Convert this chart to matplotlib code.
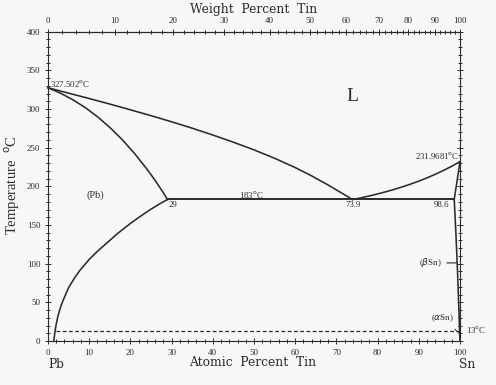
import matplotlib
matplotlib.use("Agg")
import matplotlib.pyplot as plt
import numpy as np
from matplotlib.ticker import MultipleLocator

# Pb-Sn phase diagram, x in atomic percent Sn, T in deg C
pb_liq_x = [0, 5, 10, 15, 20, 25, 30, 35, 40, 45, 50, 55, 60, 64, 68, 71, 73.9]
pb_liq_t = [327.5, 320.5, 313.6, 306.4, 299.0, 291.4, 283.5, 275.2, 266.4, 257.1,
            247.2, 236.3, 224.3, 213.5, 201.7, 192.2, 183]

pb_sol_x = [0, 3, 6, 9, 12, 15, 18, 21, 24, 26, 28, 29]
pb_sol_t = [327.5, 320.6, 312.1, 302.0, 290.1, 276.2, 260.5, 242.5, 222.4, 207.7,
            191.7, 183]

pb_solv_x = [29, 27, 25, 22.3, 20, 17, 14.2, 12, 10, 7.8, 6.5, 5, 3.7, 3, 2.4, 2,
             1.7, 1.4]
pb_solv_t = [183, 177, 170.5, 160.8, 152, 139.5, 126.4, 116, 105.5, 91.8, 82, 69,
             53, 43, 32, 22, 12, 0]

sn_liq_x = [73.9, 76, 78, 80, 82, 84, 86, 88, 90, 92, 94, 96, 98, 100]
sn_liq_t = [183, 185.2, 187.6, 190.2, 193, 196, 199.3, 202.9, 206.8, 211, 215.6,
            220.6, 226, 231.97]

sn_sol_x = [98.6, 100]
sn_sol_t = [183, 231.97]

sn_solv_x = [98.6, 99.0, 99.4, 99.7, 99.9, 100]
sn_solv_t = [183, 140, 90, 45, 13, 0]

eut_x = [29, 98.6]
eut_t = [183, 183]

trans_x = [1.9, 99.8]
trans_t = [13, 13]

M_PB, M_SN = 207.2, 118.71


def at2wt(a):
    a = np.asarray(a, dtype=float)
    with np.errstate(divide="ignore", invalid="ignore"):
        return 100 * a * M_SN / (a * M_SN + (100 - a) * M_PB)


def wt2at(w):
    w = np.asarray(w, dtype=float)
    with np.errstate(divide="ignore", invalid="ignore"):
        return 100 * (w / M_SN) / (w / M_SN + (100 - w) / M_PB)


plt.rcParams["font.family"] = ["Liberation Serif", "DejaVu Serif"]
bg = "#f7f7f7"
ink = "#2b2b2b"

fig = plt.figure(figsize=(4.96, 3.85), dpi=100, facecolor=bg)
ax = fig.add_axes([48 / 496, 44 / 385, 412 / 496, 309.3 / 385], facecolor=bg)

lw = 1.15
for xs, ts in [(pb_liq_x, pb_liq_t), (pb_sol_x, pb_sol_t), (pb_solv_x, pb_solv_t),
               (sn_liq_x, sn_liq_t), (sn_sol_x, sn_sol_t), (sn_solv_x, sn_solv_t)]:
    ax.plot(xs, ts, color=ink, lw=lw, clip_on=False, solid_joinstyle="round")
ax.plot(eut_x, eut_t, color=ink, lw=1.4)
ax.plot(trans_x, trans_t, color=ink, lw=0.9, ls=(0, (3, 2)))

ax.set_xlim(0, 100)
ax.set_ylim(0, 400)
ax.xaxis.set_major_locator(MultipleLocator(10))
ax.xaxis.set_minor_locator(MultipleLocator(2))
ax.yaxis.set_major_locator(MultipleLocator(50))
ax.yaxis.set_minor_locator(MultipleLocator(10))
ax.tick_params(which="both", direction="inout", colors=ink, labelsize=6.5,
               right=True, width=0.7)
ax.tick_params(which="major", length=5, pad=3)
ax.tick_params(which="minor", length=2.5)
for s in ax.spines.values():
    s.set_color(ink)
    s.set_linewidth(0.8)

top = ax.secondary_xaxis("top", functions=(at2wt, wt2at))
top.set_xticks(np.arange(0, 101, 10))
top.xaxis.set_minor_locator(MultipleLocator(2))
top.tick_params(which="both", direction="inout", colors=ink, labelsize=6.5, width=0.7)
top.tick_params(which="major", length=5, pad=2)
top.tick_params(which="minor", length=2.5)
top.spines["top"].set_color(ink)

# axis titles
tfont = ["DejaVu Serif"]
tfs = 8.8
fig.text(254 / 496, 1 - 10 / 385, "Weight  Percent  Tin", ha="center", va="center",
         fontsize=tfs, color=ink, family=tfont)
fig.text(253 / 496, 1 - 363 / 385, "Atomic  Percent  Tin", ha="center", va="center",
         fontsize=tfs, color=ink, family=tfont)
fig.text(56 / 496, 1 - 364 / 385, "Pb", ha="center", va="center", fontsize=tfs,
         color=ink, family=tfont)
fig.text(467 / 496, 1 - 365 / 385, "Sn", ha="center", va="center", fontsize=tfs,
         color=ink, family=tfont)
fig.text(12 / 496, 1 - 185 / 385, "Temperature  $^{\\rm o}$C", ha="center", va="center",
         rotation=90, fontsize=10.5, color=ink)

# annotations inside the diagram
fs = 6.3
ax.text(0.5, 333, "327.502$^{\\rm o}$C", fontsize=fs, color=ink, ha="left", va="center")
ax.text(74, 316, "L", fontsize=14, color=ink, ha="center", va="center")
ax.text(11.4, 189, "(Pb)", fontsize=7.5, color=ink, ha="center", va="center")
ax.text(29.2, 176, "29", fontsize=fs, color=ink, ha="left", va="center")
ax.text(49.4, 189, "183$^{\\rm o}$C", fontsize=fs, color=ink, ha="center", va="center")
ax.text(74, 176, "73.9", fontsize=fs, color=ink, ha="center", va="center")
ax.text(95.5, 176, "98.6", fontsize=fs, color=ink, ha="center", va="center")
ax.text(99.9, 240, "231.9681$^{\\rm o}$C", fontsize=fs, color=ink, ha="right", va="center")
ax.annotate("($\\beta$Sn)", xy=(99.2, 101), xytext=(92.7, 101), fontsize=6.5, color=ink,
            ha="center", va="center",
            arrowprops=dict(arrowstyle="-", color=ink, lw=0.8, shrinkA=2, shrinkB=0))
ax.annotate("($\\alpha$Sn)", xy=(99.6, 11), xytext=(95.8, 30), fontsize=6.5, color=ink,
            ha="center", va="center",
            arrowprops=dict(arrowstyle="-", color=ink, lw=0.7, shrinkA=3, shrinkB=0))
ax.text(101.5, 15.5, "13$^{\\rm o}$C", fontsize=fs, color=ink, ha="left", va="center",
        clip_on=False)

fig.savefig("out.png", dpi=100, facecolor=bg)
